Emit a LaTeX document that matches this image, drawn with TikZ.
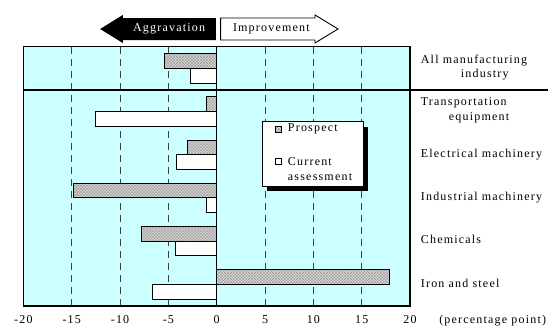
\documentclass[tikz,border=0pt]{standalone}
\usepackage{fontspec}
\setmainfont{Liberation Serif}[LetterSpace=10]
\usetikzlibrary{patterns}
\definecolor{plotbg}{HTML}{CCFFFF}
\tikzset{
  prosp/.style={draw=black, line width=0.8pt, preaction={fill=gray!30}, pattern=crosshatch, pattern color=gray!75},
  curr/.style={draw=black, line width=0.8pt, fill=white},
  gridline/.style={gray!50!black, dash pattern=on 7pt off 5pt, line width=0.7pt},
  lbl/.style={font=\fontsize{12}{14.5}\selectfont, inner sep=0pt}
}
\begin{document}
\begin{tikzpicture}[x=9.667pt, y=-43.2pt]
    \useasboundingbox (-22.42,-1.081) rectangle (34.27,6.488);
    % plot area
    \fill[plotbg] (-20,0) rectangle (20,6);
    \foreach \x in {-15,-10,-5,5,10,15}
    \draw[gridline] (\x,0) -- (\x,6);
    % bars (row/prospect/current)
    \foreach \r/\p/\c in {0/-5.4/-2.7, 1/-1.1/-12.5, 2/-3.0/-4.2, 3/-14.8/-1.1, 4/-7.8/-4.3, 5/17.9/-6.7} {
        \draw[prosp] (0,\r+0.16) rectangle (\p,\r+0.5);
        \draw[curr] (0,\r+0.5) rectangle (\c,\r+0.84);
    }
    \draw[line width=1.5pt] (0,0) -- (0,6);
    \draw[line width=1.6pt] (-20,0) rectangle (20,6);
    \draw[line width=1.6pt] (-20,1) -- (34.27,1);
    % axis
    \foreach \x [count=\i] in {-20,-15,...,20}
    \node[lbl, anchor=base] (tick\i) at (\x,6.41) {\x};
    \node[lbl, anchor=base west] (unit) at (23.0,6.41) {(percentage point)};
    % categories
    \node[lbl, anchor=west, align=left] (cat1) at (21.1,0.48) {All manufacturing\\\hspace*{40pt}industry};
    \node[lbl, anchor=west, align=left] (cat2) at (21.1,1.47) {Transportation\\\hspace*{28pt}equipment};
    \node[lbl, anchor=west] (cat3) at (21.1,2.49) {Electrical machinery};
    \node[lbl, anchor=west] (cat4) at (21.1,3.49) {Industrial machinery};
    \node[lbl, anchor=west] (cat5) at (21.1,4.47) {Chemicals};
    \node[lbl, anchor=west] (cat6) at (21.1,5.48) {Iron and steel};
    % arrows on top
    \fill (-0.1,-0.664) -- (-9.72,-0.664) -- (-9.72,-0.734) -- (-12.06,-0.41) -- (-9.72,-0.086) -- (-9.72,-0.155) -- (-0.1,-0.155) -- cycle;
    \node[lbl, text=white] (aggr) at (-4.93,-0.41) {Aggravation};
    \draw[line width=0.9pt, fill=white] (0.41,-0.664) -- (10.17,-0.664) -- (10.17,-0.734) -- (12.55,-0.41) -- (10.17,-0.086) -- (10.17,-0.155) -- (0.41,-0.155) -- cycle;
    \node[lbl] (impr) at (5.65,-0.41) {Improvement};
    % legend
    \fill (5.21,1.852) rectangle (15.69,3.341);
    \draw[line width=0.8pt, fill=white] (4.69,1.736) rectangle (15.17,3.225);
    \node[prosp, minimum size=6pt, inner sep=0pt] (mkp) at (6.4,1.91) {};
    \node[curr, minimum size=6pt, inner sep=0pt] (mkc) at (6.4,2.66) {};
    \node[lbl, anchor=west] (lp) at (7.35,1.91) {Prospect};
    \node[lbl, anchor=west, align=left] (lc) at (7.35,2.83) {Current\\assessment};
\end{tikzpicture}
\end{document}
